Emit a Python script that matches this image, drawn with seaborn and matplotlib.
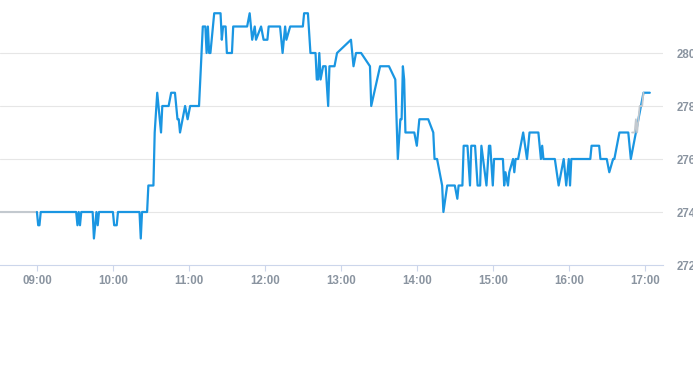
import matplotlib
matplotlib.use("Agg")
import matplotlib.dates as mdates
import matplotlib.pyplot as plt
import pandas as pd
import seaborn as sns

DAY = "2024-01-15"

# regular session (blue)
SESSION_TIMES = [
    "09:00", "09:01", "09:02", "09:03", "09:31", "09:32", "09:33", "09:34", "09:35",
    "09:44", "09:45", "09:47", "09:48", "09:49", "10:00", "10:01", "10:03", "10:04",
    "10:21", "10:22", "10:23", "10:27", "10:28", "10:32", "10:33", "10:35", "10:38",
    "10:39", "10:44", "10:46",
    "10:49", "10:51", "10:52", "10:53", "10:57", "10:59", "11:01", "11:08", "11:11",
    "11:13", "11:14", "11:15", "11:16", "11:17", "11:19", "11:20", "11:25", "11:26",
    "11:27", "11:29", "11:30", "11:34", "11:35", "11:46", "11:48", "11:50", "11:52",
    "11:53", "11:57", "11:59", "12:02", "12:03", "12:12", "12:14", "12:16", "12:17",
    "12:20", "12:30", "12:31", "12:34", "12:36", "12:40", "12:41", "12:42", "12:43",
    "12:44", "12:46", "12:48", "12:50", "12:51", "12:55", "12:57", "13:08", "13:10",
    "13:12", "13:16", "13:23", "13:24", "13:31", "13:38", "13:43", "13:45", "13:47",
    "13:48", "13:49", "13:50", "13:51", "13:58", "14:00", "14:02", "14:09", "14:13",
    "14:14", "14:16", "14:20", "14:21", "14:24", "14:30", "14:32", "14:33", "14:36",
    "14:37", "14:40", "14:42", "14:43", "14:46", "14:48", "14:50", "14:51", "14:55",
    "14:57", "14:58", "15:00", "15:01", "15:08", "15:09", "15:10", "15:12", "15:13",
    "15:16", "15:17", "15:18", "15:20", "15:24", "15:27", "15:29", "15:36", "15:38",
    "15:39", "15:40", "15:49", "15:52", "15:56", "15:58", "16:00", "16:01", "16:02",
    "16:17", "16:18", "16:24", "16:25", "16:30", "16:32", "16:35", "16:36", "16:40",
    "16:47", "16:49", "16:53", "16:59", "17:04",
]
SESSION_PRICES = [
    274, 273.5, 273.5, 274, 274, 273.5, 274, 273.5, 274,
    274, 273, 274, 273.5, 274, 274, 273.5, 273.5, 274,
    274, 273, 274, 274, 275, 275, 277, 278.5, 277,
    278, 278, 278.5,
    278.5, 277.5, 277.5, 277, 278, 277.5, 278, 278, 281,
    281, 280, 281, 280, 280, 281, 281.5, 281.5, 280.5,
    281, 281, 280, 280, 281, 281, 281.5, 280.5, 281,
    280.5, 281, 280.5, 280.5, 281, 281, 280, 281, 280.5,
    281, 281, 281.5, 281.5, 280, 280, 279, 279, 280,
    279, 279.5, 279.5, 278, 279.5, 279.5, 280, 280.5, 279.5,
    280, 280, 279.5, 278, 279.5, 279.5, 279, 276, 277.5,
    277.5, 279.5, 279, 277, 277, 276.5, 277.5, 277.5, 277,
    276, 276, 275, 274, 275, 275, 274.5, 275, 275,
    276.5, 276.5, 275, 276.5, 276.5, 275, 275, 276.5, 275,
    276.5, 276.5, 275, 276, 276, 275, 275.5, 275, 275.5,
    276, 275.5, 276, 276, 277, 276, 277, 277, 276,
    276.5, 276, 276, 275, 276, 275, 276, 275, 276,
    276, 276.5, 276.5, 276, 276, 275.5, 276, 276, 277,
    277, 276, 277, 278.5, 278.5,
]

# pre-market (grey)
PRE_TIMES = ["08:00", "09:00"]
PRE_PRICES = [274, 274]

# after-hours (grey)
POST_TIMES = ["16:50", "16:52", "16:53", "16:54", "16:56", "16:58", "16:59"]
POST_PRICES = [277, 277, 277.5, 277, 278, 278, 278.5]

Y_TICKS = [272, 274, 276, 278, 280]
X_TICKS = ["09:00", "10:00", "11:00", "12:00", "13:00", "14:00", "15:00", "16:00", "17:00"]

BLUE = "#1a96e2"
GREY = "#c3c9cf"
LABEL = "#8a94a0"


def to_frame(times, prices):
    return pd.DataFrame({
        "time": pd.to_datetime([f"{DAY} {t}" for t in times]),
        "price": prices,
    })


def main() -> None:
    sns.set_theme(style="white")
    plt.rcParams["font.family"] = ["Liberation Sans", "DejaVu Sans"]

    fig = plt.figure(figsize=(6.93, 3.65), dpi=100)
    ax = fig.add_axes([0.0, 100 / 365, 663 / 693, 265 / 365])

    for y in Y_TICKS[1:]:
        ax.axhline(y, color="#e6e6e6", lw=0.8, zorder=0)

    pre = to_frame(PRE_TIMES, PRE_PRICES)
    session = to_frame(SESSION_TIMES, SESSION_PRICES)
    post = to_frame(POST_TIMES, POST_PRICES)
    sns.lineplot(data=pre, x="time", y="price", color=GREY, lw=1.5, estimator=None, sort=False, ax=ax)
    sns.lineplot(data=session, x="time", y="price", color=BLUE, lw=1.6, estimator=None, sort=False, ax=ax)
    sns.lineplot(data=post, x="time", y="price", color=GREY, lw=1.3, estimator=None, sort=False, ax=ax)

    x0 = pd.Timestamp(f"{DAY} 08:30:50")
    x1 = pd.Timestamp(f"{DAY} 17:14:25")
    ax.set_xlim(x0, x1)
    ax.set_ylim(272, 282)

    ax.set_xticks(pd.to_datetime([f"{DAY} {t}" for t in X_TICKS]))
    ax.xaxis.set_major_formatter(mdates.DateFormatter("%H:%M"))
    ax.set_yticks(Y_TICKS)
    ax.yaxis.tick_right()
    ax.tick_params(axis="y", length=0, pad=9.5, labelsize=8.3, labelcolor=LABEL)
    ax.tick_params(axis="x", length=4, width=0.8, color="#ccd6eb", pad=3.5,
                   labelsize=8.3, labelcolor=LABEL, direction="out", bottom=True)
    for label in ax.get_xticklabels() + ax.get_yticklabels():
        label.set_fontweight("bold")

    ax.set_xlabel("")
    ax.set_ylabel("")
    for side in ["top", "left", "right"]:
        ax.spines[side].set_visible(False)
    ax.spines["bottom"].set_color("#ccd6eb")
    ax.spines["bottom"].set_linewidth(0.8)
    ax.patch.set_alpha(0)

    fig.savefig("out.png", dpi=100)
    plt.close(fig)


if __name__ == "__main__":
    main()
